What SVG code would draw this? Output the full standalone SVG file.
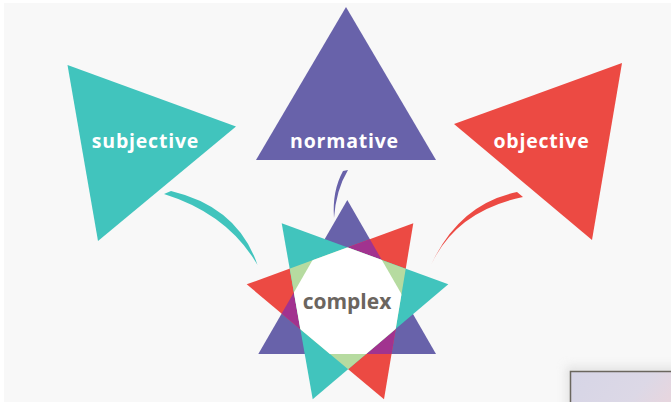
<svg xmlns="http://www.w3.org/2000/svg" width="671" height="402" viewBox="0 0 671 402">
  <style>
    .lbl { font-family: "Open Sans", "Liberation Sans", sans-serif; font-weight: bold; font-size: 19.5px; letter-spacing: 0.8px; fill: #ffffff; text-anchor: middle; }
    .cx { font-family: "Open Sans", "Liberation Sans", sans-serif; font-weight: bold; font-size: 21px; fill: #6b655f; text-anchor: middle; }
    .teal { fill: #41c4bd; }
    .purple { fill: #6862aa; }
    .red { fill: #ec4a43; }
  </style>
  <defs>
    <clipPath id="clipP"><polygon points="347.3,200 258.3,354 436,354"/></clipPath>
    <clipPath id="clipR"><polygon points="413.3,223.3 246.7,284.3 384,399.3"/></clipPath>
    <linearGradient id="panel" x1="0" y1="0" x2="1" y2="0.3">
      <stop offset="0" stop-color="#d6d5e6"/>
      <stop offset="0.7" stop-color="#dcd8e6"/>
      <stop offset="1" stop-color="#e6d6df"/>
    </linearGradient>
    <filter id="blur" x="-20%" y="-50%" width="140%" height="200%"><feGaussianBlur stdDeviation="5"/></filter>
  </defs>
  <rect x="0" y="0" width="671" height="402" fill="#ffffff"/>
  <rect x="4" y="3" width="667" height="399" fill="#f8f8f8"/>

  <g id="panel-corner">
    <rect x="566" y="366" width="120" height="50" fill="#d0d0d0" opacity="0.5" filter="url(#blur)"/>
    <rect x="570.5" y="371.5" width="110" height="40" fill="url(#panel)" stroke="#6a665e" stroke-width="1.5"/>
  </g>

  <g id="connectors">
    <path class="teal" d="M164,194 L171,191 Q238,207 257.5,265 Q228,214 164,194 Z"/>
    <path class="purple" d="M343,171 L348,170 Q336,190 334,218 Q332,191 343,171 Z"/>
    <path class="red" d="M517,192 L523,197 Q456,211 431,265 Q459,204 517,192 Z"/>
  </g>

  <g id="subjective">
    <polygon class="teal" points="67.5,65 236,126.5 98,241"/>
    <text class="lbl" x="145.5" y="148">subjective</text>
  </g>

  <g id="normative">
    <polygon class="purple" points="346,7 256,160 436,160"/>
    <text class="lbl" x="344.5" y="148">normative</text>
  </g>

  <g id="objective">
    <polygon class="red" points="622,63 454,124 592,240"/>
    <text class="lbl" x="541.5" y="148">objective</text>
  </g>

  <g id="complex">
    <polygon class="purple" points="347.3,200 258.3,354 436,354"/>
    <polygon class="red" points="413.3,223.3 246.7,284.3 384,399.3"/>
    <polygon fill="#a1338f" clip-path="url(#clipP)" points="413.3,223.3 246.7,284.3 384,399.3"/>
    <polygon class="teal" points="281.7,223.3 448.3,284.3 312.7,399.3"/>
    <polygon fill="#b6dba0" clip-path="url(#clipR)" points="281.7,223.3 448.3,284.3 312.7,399.3"/>
    <g clip-path="url(#clipP)">
      <polygon fill="#ffffff" clip-path="url(#clipR)" points="281.7,223.3 448.3,284.3 312.7,399.3"/>
    </g>
    <text class="cx" x="347" y="309">complex</text>
  </g>
</svg>
